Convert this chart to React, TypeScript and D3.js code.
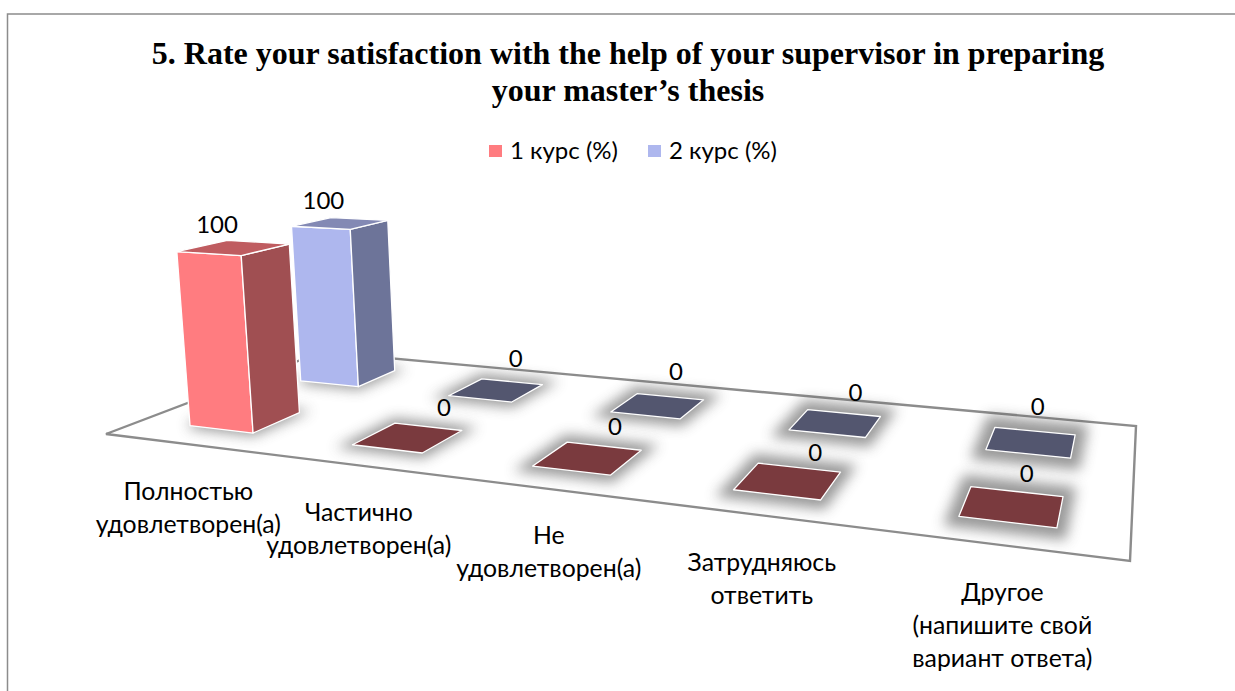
import React from 'react';
import * as d3 from 'd3';

const titleLines = ["5. Rate your satisfaction with the help of your supervisor in preparing", "your master’s thesis"];
const seriesNames = ["1 курс (%)", "2 курс (%)"];
const categoryLabels = [
  ["Полностью", "удовлетворен(а)"],
  ["Частично", "удовлетворен(а)"],
  ["Не", "удовлетворен(а)"],
  ["Затрудняюсь", "ответить"],
  ["Другое", "(напишите свой", "вариант ответа)"],
];
const course1 = [100, 0, 0, 0, 0];
const course2 = [100, 0, 0, 0, 0];

const width = 1235;
const height = 691;
const labelFont = 'Lato, "Noto Sans", sans-serif';
const labelSize = 24;
const categorySize = 24.8;

// face colours, [front, side, top, flat tile]
const palette = [
  { front: "#FF7C80", side: "#A04F52", top: "#BF5C60", tile: "#7A3A3E" },
  { front: "#AEB7EE", side: "#6D7499", top: "#8389B4", tile: "#53566F" },
];

// the chart placed the flat bars' labels a bit unevenly, per series and category
const zeroLabelNudge = [
  [[0, 0], [-4, 2], [-5, 3], [5, 8], [5, 7]],
  [[0, 0], [-12, -4], [-7, -5], [3, 0], [-1, -3]],
];

// floor corners on screen: front-left, front-right, back-right, back-left
const [[x0, y0], [x1, y1], [x2, y2], [x3, y3]] = [[106, 434], [1130, 561], [1136, 426], [322, 352]];
const det = (x1 - x2) * (y3 - y2) - (x3 - x2) * (y1 - y2);
const sx = x0 - x1 + x2 - x3;
const sy = y0 - y1 + y2 - y3;
const g = (sx * (y3 - y2) - (x3 - x2) * sy) / det;
const h = ((x1 - x2) * sy - sx * (y1 - y2)) / det;
const a = x1 - x0 + g * x1;
const b = x3 - x0 + h * x3;
const d = y1 - y0 + g * y1;
const e = y3 - y0 + h * y3;

// vertical lines of the bars meet far below the chart
const vanish = [724, 7475];
const lift = -0.0246;

// u along the categories, v into the depth, z the value share 0..1
const project = (u: number, v: number, z = 0): [number, number] => {
  const w = g * u + h * v + 1 + lift * z;
  return [
    (a * u + b * v + x0 + lift * z * vanish[0]) / w,
    (d * u + e * v + y0 + lift * z * vanish[1]) / w,
  ];
};

const uScale = d3.scaleBand<number>().domain(d3.range(categoryLabels.length)).range([0.002, 1.002]).paddingInner(0.6).paddingOuter(0.3);
const vScale = d3.scaleBand<number>().domain([0, 1]).range([0, 1]).paddingInner(0.59).paddingOuter(0.275);
const zScale = d3.scaleLinear().domain([0, 100]).range([0, 1]);
const shadowScale = d3.scaleLinear().domain([0, categoryLabels.length - 1]).range([6, 22]);

const poly = d3.line().curve(d3.curveLinearClosed);

const Bar = ({ cat, ser, value }: { cat: number; ser: number; value: number }) => {
  const u0 = uScale(cat)!;
  const u1 = u0 + uScale.bandwidth();
  const v0 = vScale(ser)!;
  const v1 = v0 + vScale.bandwidth();
  const z = zScale(value);
  const c = palette[ser];
  const stroke = { stroke: "#fff", strokeWidth: 1.3, strokeLinejoin: "round" as const };
  const base = [project(u0, v0), project(u1, v0), project(u1, v1), project(u0, v1)];
  const topFace = [project(u0, v0, z), project(u1, v0, z), project(u1, v1, z), project(u0, v1, z)];
  if (value === 0) {
    return <path d={poly(base)!} fill={c.tile} {...stroke} />;
  }
  return (
    <g>
      <path d={poly([project(u0, v0), project(u1, v0), project(u1, v0, z), project(u0, v0, z)])!} fill={c.front} {...stroke} />
      <path d={poly([project(u1, v0), project(u1, v1), project(u1, v1, z), project(u1, v0, z)])!} fill={c.side} {...stroke} />
      <path d={poly(topFace)!} fill={c.top} {...stroke} />
    </g>
  );
};

const Shadow = ({ cat, ser }: { cat: number; ser: number }) => {
  const u0 = uScale(cat)!;
  const u1 = u0 + uScale.bandwidth();
  const v0 = vScale(ser)!;
  const v1 = v0 + vScale.bandwidth();
  return (
    <path
      d={poly([project(u0, v0), project(u1, v0), project(u1, v1), project(u0, v1)])!}
      fill="#555"
      stroke="#555"
      strokeWidth={shadowScale(cat)}
      filter="url(#soft)"
      opacity={0.6}
    />
  );
};

const DataLabel = ({ cat, ser, value }: { cat: number; ser: number; value: number }) => {
  const uc = uScale(cat)! + uScale.bandwidth() / 2;
  const vc = vScale(ser)! + vScale.bandwidth() / 2;
  const z = zScale(value);
  // flat bars have their label behind them, tall ones up and left
  const [px, py] = value === 0 ? project(uc, vc + vScale.bandwidth()) : project(uc, vc, z);
  const off = value === 0
    ? [1 + zeroLabelNudge[ser][cat][0], -11 + zeroLabelNudge[ser][cat][1]]
    : [-17, -23];
  return (
    <text x={px + off[0]} y={py + off[1]} textAnchor="middle" dy="0.35em" fontFamily={labelFont} fontSize={labelSize} fill="#000">
      {value}
    </text>
  );
};

export default function App() {
  const series = [course1, course2];
  const floor = [project(0, 0), project(1, 0), project(1, 1), project(0, 1)];
  const drawOrder = [1, 0];
  return (
    <svg width={width} height={height} style={{ position: "absolute", left: 0, top: 0 }}>
      <defs>
        <filter id="soft" x="-60%" y="-120%" width="220%" height="340%">
          <feGaussianBlur stdDeviation={6.5} />
        </filter>
      </defs>
      <rect width={width} height={height} fill="#fff" />
      <path d={`M7.5,${height}V14H${width}`} fill="none" stroke="#8c8c8c" strokeWidth={1.5} />

      {titleLines.map((line, i) => (
        <text key={i} x={628} y={64 + i * 37} textAnchor="middle" fontFamily='"Liberation Serif", serif' fontWeight="bold" fontSize={32} fill="#000">
          {line}
        </text>
      ))}

      {seriesNames.map((name, i) => (
        <g key={name} transform={`translate(${489 + i * 159},145)`}>
          <rect width={13} height={12} fill={palette[i].front} />
          <text x={21} y={14} fontFamily={labelFont} fontSize={labelSize} fill="#000">{name}</text>
        </g>
      ))}

      <path d={poly(floor)!} fill="#fff" stroke="#8c8c8c" strokeWidth={2.4} strokeLinejoin="miter" />

      {drawOrder.map((ser) => series[ser].map((value, cat) => (
        <g key={`${ser}-${cat}`}>
          <Shadow cat={cat} ser={ser} />
          <Bar cat={cat} ser={ser} value={value} />
        </g>
      )))}

      {drawOrder.map((ser) => series[ser].map((value, cat) => (
        <DataLabel key={`${ser}-${cat}`} cat={cat} ser={ser} value={value} />
      )))}

      {categoryLabels.map((lines, cat) => {
        const [px, py] = project(uScale(cat)! + uScale.bandwidth() / 2, 0);
        return (
          <text key={cat} textAnchor="middle" fontFamily={labelFont} fontSize={categorySize} fill="#000">
            {lines.map((line, i) => (
              <tspan key={i} x={px + 2} y={py + 47 + i * 33} dy="0.35em">{line}</tspan>
            ))}
          </text>
        );
      })}
    </svg>
  );
}
